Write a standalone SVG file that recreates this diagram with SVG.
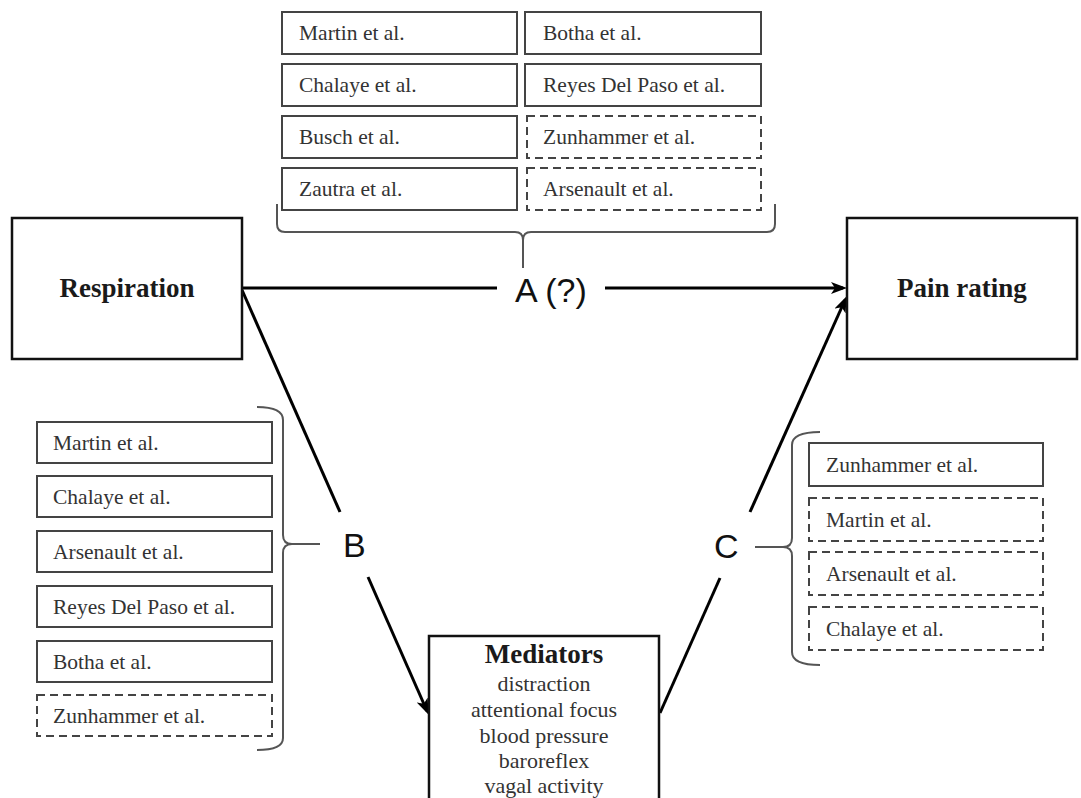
<svg xmlns="http://www.w3.org/2000/svg" width="1081" height="798" viewBox="0 0 1081 798">
<style>
.bg{fill:#fff}
.main{fill:#fff;stroke:#111;stroke-width:2.5}
.ref{fill:#fff;stroke:#444;stroke-width:2}
.dash{fill:#fff;stroke:#444;stroke-width:2;stroke-dasharray:8 5}
.rt{font-family:"Liberation Serif",serif;font-size:21.5px;fill:#333}
.bt{font-family:"Liberation Serif",serif;font-size:27px;font-weight:bold;fill:#1a1a1a;text-anchor:middle}
.mt{font-family:"Liberation Serif",serif;font-size:22px;fill:#333;text-anchor:middle}
.lbl{font-family:"Liberation Sans",sans-serif;font-size:34px;fill:#111}
.arr{stroke:#000;stroke-width:3;fill:none}
.brace{stroke:#555;stroke-width:2;fill:none}
</style>
<defs>
<marker id="ah" viewBox="0 0 16 12" refX="12" refY="6" markerWidth="16" markerHeight="12" markerUnits="userSpaceOnUse" orient="auto">
<path d="M0,0 L16,6 L0,12 L4,6 z" fill="#000"/>
</marker>
</defs>
<rect class="bg" x="0" y="0" width="1081" height="798"/>

<g id="connectors">
<line class="arr" x1="242" y1="288" x2="497" y2="288"/>
<line class="arr" x1="605" y1="288" x2="843" y2="288" marker-end="url(#ah)"/>
<line class="arr" x1="242" y1="290" x2="340" y2="512"/>
<line class="arr" x1="368" y1="577" x2="427" y2="711" marker-end="url(#ah)"/>
<line class="arr" x1="660" y1="713" x2="720" y2="578"/>
<line class="arr" x1="750" y1="512" x2="845" y2="300" marker-end="url(#ah)"/>
</g>

<g id="node-respiration">
<rect class="main" x="12" y="218" width="230" height="141"/>
<text class="bt" x="127" y="297">Respiration</text>
</g>
<g id="node-pain">
<rect class="main" x="847" y="218" width="230" height="141"/>
<text class="bt" x="962" y="297">Pain rating</text>
</g>
<g id="node-mediators">
<rect class="main" x="429" y="636" width="230" height="200"/>
<text class="bt" x="544" y="663">Mediators</text>
<text class="mt" x="544" y="691">distraction</text>
<text class="mt" x="544" y="717">attentional focus</text>
<text class="mt" x="544" y="743">blood pressure</text>
<text class="mt" x="544" y="768">baroreflex</text>
<text class="mt" x="544" y="793">vagal activity</text>
</g>

<g id="label-a"><text class="lbl" x="515" y="302">A (?)</text></g>
<g id="label-b"><text class="lbl" x="343" y="557">B</text></g>
<g id="label-c"><text class="lbl" x="714" y="558">C</text></g>

<g id="group-a">
<path class="brace" d="M277,204 L277,224 Q277,232 285,232 L515,232 Q523,232 523,240 L523,268 M523,240 Q523,232 531,232 L767,232 Q775,232 775,224 L775,204"/>
<rect class="ref" x="282" y="12" width="235" height="42"/><text class="rt" x="299" y="40">Martin et al.</text>
<rect class="ref" x="282" y="64" width="235" height="42"/><text class="rt" x="299" y="92">Chalaye et al.</text>
<rect class="ref" x="282" y="116" width="235" height="42"/><text class="rt" x="299" y="144">Busch et al.</text>
<rect class="ref" x="282" y="168" width="235" height="42"/><text class="rt" x="299" y="196">Zautra et al.</text>
<rect class="ref" x="525" y="12" width="236" height="42"/><text class="rt" x="543" y="40">Botha et al.</text>
<rect class="ref" x="525" y="64" width="236" height="42"/><text class="rt" x="543" y="92">Reyes Del Paso et al.</text>
<rect class="dash" x="527" y="116" width="234" height="42"/><text class="rt" x="543" y="144">Zunhammer et al.</text>
<rect class="dash" x="527" y="168" width="234" height="42"/><text class="rt" x="543" y="196">Arsenault et al.</text>
</g>

<g id="group-b">
<path class="brace" d="M257,407 Q283,407 283,420 L283,535 Q283,544 292,544 L320,544 M292,544 Q283,544 283,553 L283,738 Q283,750 257,750"/>
<rect class="ref" x="37" y="422" width="235" height="41"/><text class="rt" x="53" y="450">Martin et al.</text>
<rect class="ref" x="37" y="476" width="235" height="41"/><text class="rt" x="53" y="504">Chalaye et al.</text>
<rect class="ref" x="37" y="531" width="235" height="41"/><text class="rt" x="53" y="559">Arsenault et al.</text>
<rect class="ref" x="37" y="586" width="235" height="41"/><text class="rt" x="53" y="614">Reyes Del Paso et al.</text>
<rect class="ref" x="37" y="641" width="235" height="41"/><text class="rt" x="53" y="669">Botha et al.</text>
<rect class="dash" x="37" y="695" width="235" height="41"/><text class="rt" x="53" y="723">Zunhammer et al.</text>
</g>

<g id="group-c">
<path class="brace" d="M820,432 Q792,432 792,445 L792,538 Q792,547 783,547 L755,547 M783,547 Q792,547 792,556 L792,652 Q792,665 820,665"/>
<rect class="ref" x="809" y="443" width="234" height="43"/><text class="rt" x="826" y="472">Zunhammer et al.</text>
<rect class="dash" x="809" y="498" width="234" height="43"/><text class="rt" x="826" y="527">Martin et al.</text>
<rect class="dash" x="809" y="552" width="234" height="43"/><text class="rt" x="826" y="581">Arsenault et al.</text>
<rect class="dash" x="809" y="607" width="234" height="43"/><text class="rt" x="826" y="636">Chalaye et al.</text>
</g>
</svg>
